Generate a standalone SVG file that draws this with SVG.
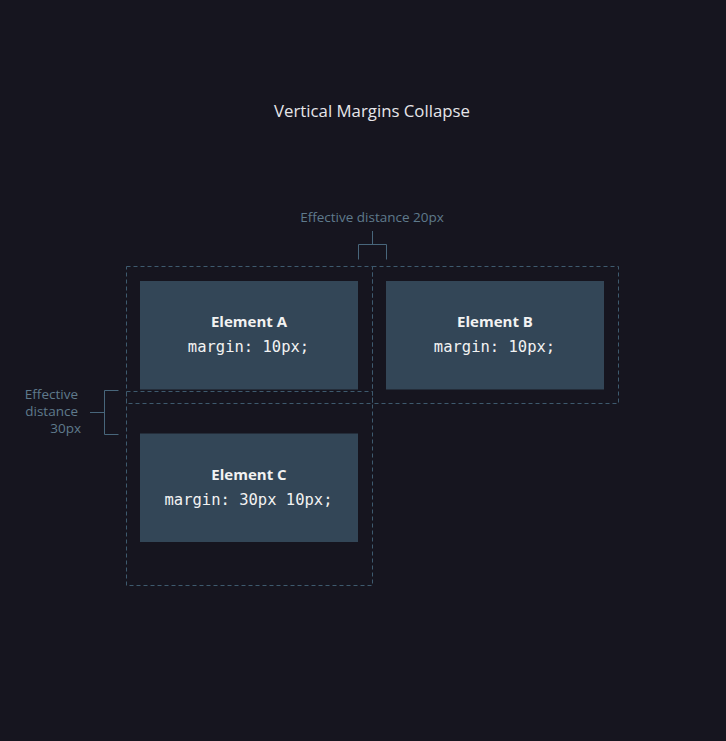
<svg xmlns="http://www.w3.org/2000/svg" width="726" height="741" viewBox="0 0 726 741">
<style>
.bg{fill:#16151f}
.box{fill:#334657}
.margin{fill:none;stroke:#3e5a6e;stroke-width:1;stroke-dasharray:4 3}
.br{fill:none;stroke:#48667b;stroke-width:1}
.title{font-family:"Open Sans","Noto Sans",sans-serif;font-size:16.8px;fill:#e6e6ea;text-anchor:middle}
.note{font-family:"Open Sans","Noto Sans",sans-serif;font-size:13.5px;fill:#5f7a8c}
.name{font-family:"Open Sans","Noto Sans",sans-serif;font-size:15px;font-weight:bold;fill:#f2f2f2;text-anchor:middle}
.code{font-family:"DejaVu Sans Mono",monospace;font-size:15.5px;fill:#f2f2f2;text-anchor:middle}
</style>
<rect class="bg" x="0" y="0" width="726" height="741"/>
<text class="title" x="372" y="117">Vertical Margins Collapse</text>
<g id="margins">
<rect class="margin" x="126.5" y="266.5" width="246" height="137"/>
<rect class="margin" x="372.5" y="266.5" width="246" height="137"/>
<rect class="margin" x="126.5" y="391.5" width="246" height="194"/>
</g>
<g id="elementA">
<rect class="box" x="140" y="281" width="218" height="108.5"/>
<text class="name" x="249" y="327">Element A</text>
<text class="code" x="248.5" y="352">margin: 10px;</text>
</g>
<g id="elementB">
<rect class="box" x="386" y="281" width="218" height="108.5"/>
<text class="name" x="495" y="327">Element B</text>
<text class="code" x="494.5" y="352">margin: 10px;</text>
</g>
<g id="elementC">
<rect class="box" x="140" y="433.5" width="218" height="108.5"/>
<text class="name" x="249" y="480">Element C</text>
<text class="code" x="248.5" y="505">margin: 30px 10px;</text>
</g>
<g id="connectors">
<path class="br" d="M358.5 259.5V244.5H386.5V259.5M372.5 244.5V231"/>
<path class="br" d="M118.5 390.5H104.5V434.5H118.5M104.5 412.5H90"/>
</g>
<g id="labels">
<text class="note" x="372" y="222" text-anchor="middle">Effective distance 20px</text>
<text class="note" x="78" y="399" text-anchor="end">Effective</text>
<text class="note" x="78" y="416" text-anchor="end">distance</text>
<text class="note" x="81" y="433" text-anchor="end">30px</text>
</g>
</svg>
